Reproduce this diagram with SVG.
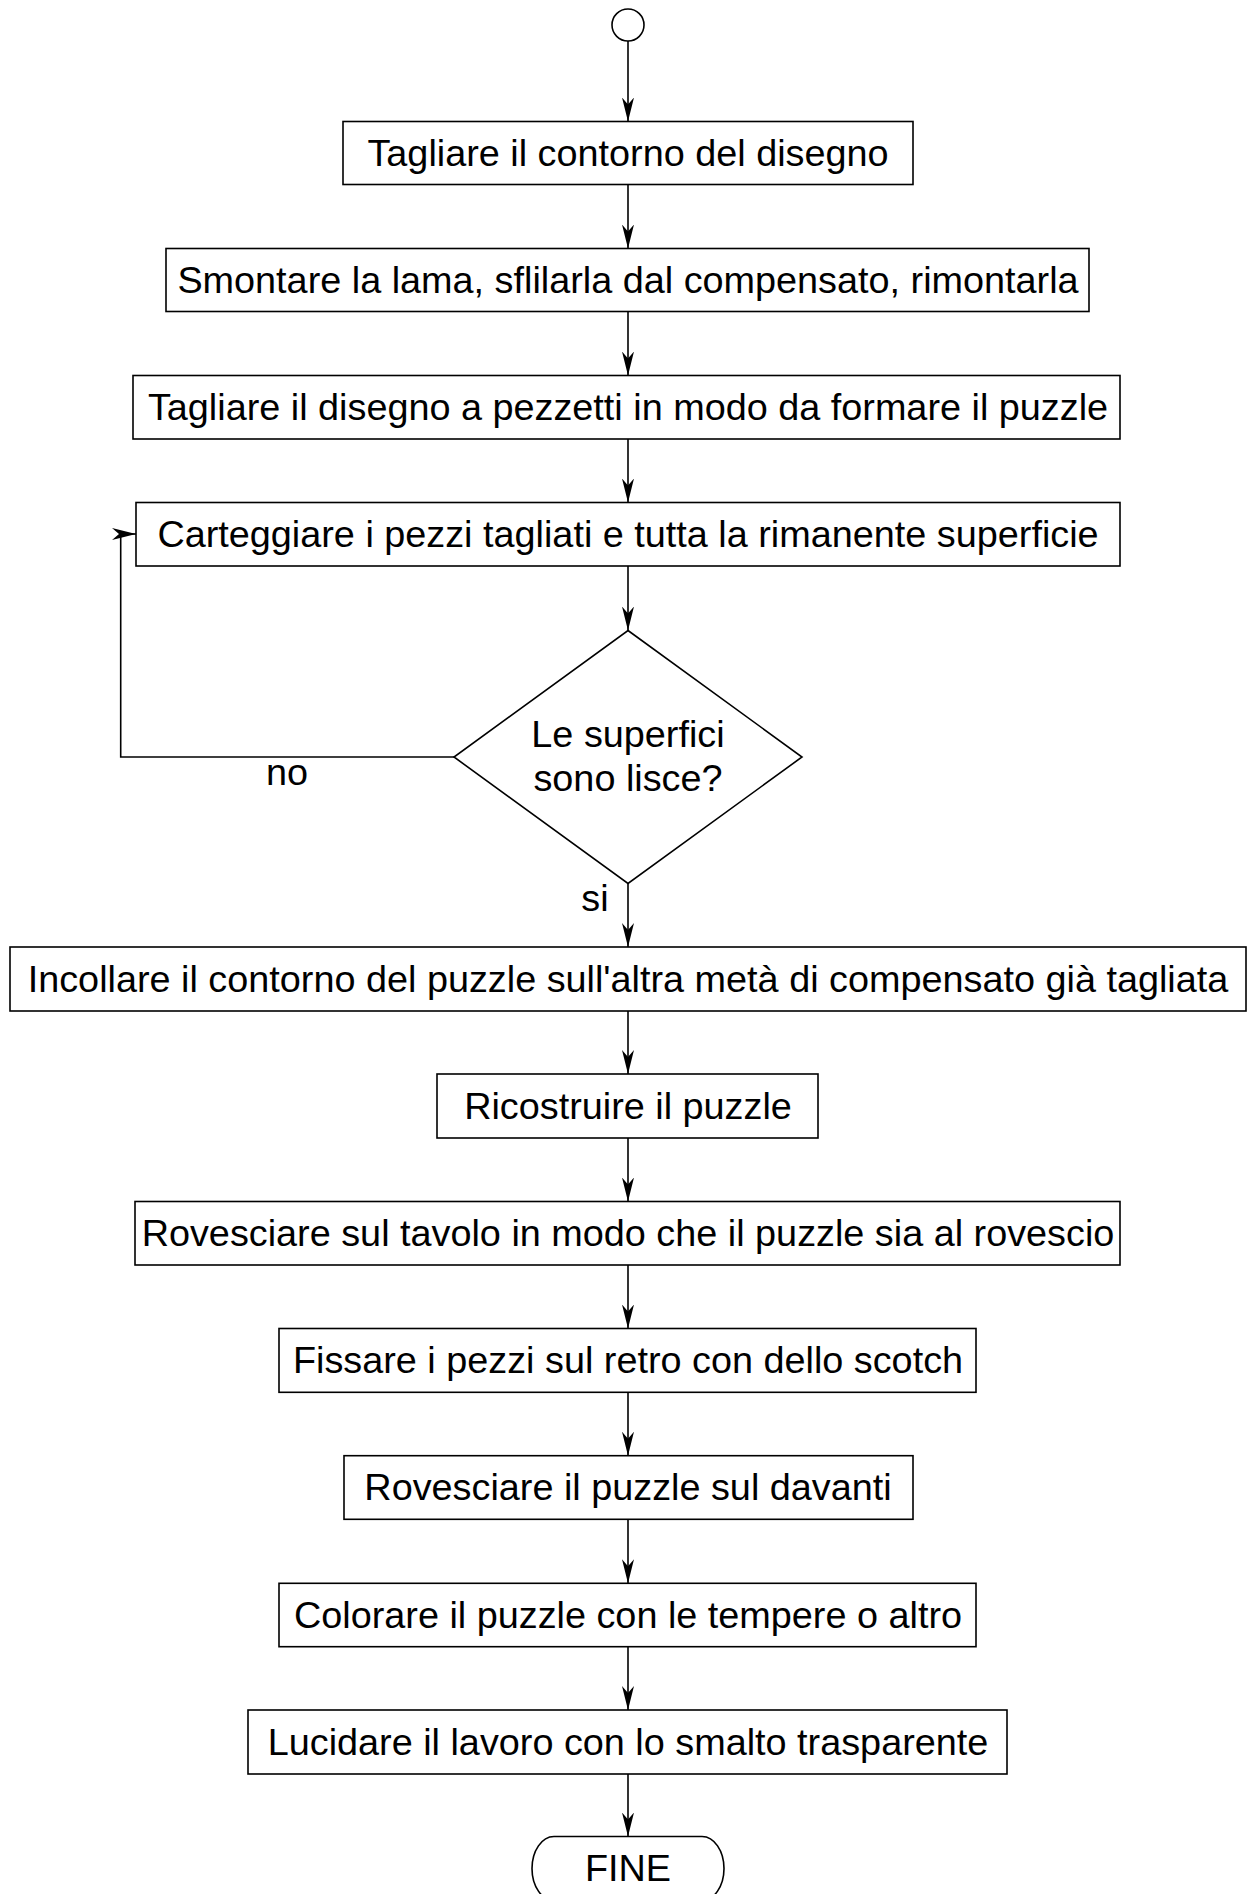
<svg xmlns="http://www.w3.org/2000/svg" width="1255" height="1894" viewBox="0 0 1255 1894">
<style>
.box{fill:#fff;stroke:#000;stroke-width:1.6}
.t{font-family:"Liberation Sans",Arial,sans-serif;font-size:37.8px;fill:#000;text-anchor:middle}
.c{fill:none;stroke:#000;stroke-width:1.6}
</style>
<defs>
<marker id="ah" viewBox="0 0 24 13" refX="24" refY="6.5" markerWidth="24" markerHeight="13" markerUnits="userSpaceOnUse" orient="auto">
<path d="M0,0.5 L24,6.5 L0,12.5 L7,6.5 Z" fill="#000"/>
</marker>
</defs>
<rect width="1255" height="1894" fill="#fff"/>
<g id="connectors">
<path class="c" d="M628,41 V121.5" marker-end="url(#ah)"/>
<path class="c" d="M628,184.5 V248.5" marker-end="url(#ah)"/>
<path class="c" d="M628,311.5 V375.5" marker-end="url(#ah)"/>
<path class="c" d="M628,439 V502.5" marker-end="url(#ah)"/>
<path class="c" d="M628,566 V630.5" marker-end="url(#ah)"/>
<path class="c" d="M628,883.5 V947" marker-end="url(#ah)"/>
<path class="c" d="M628,1011 V1074" marker-end="url(#ah)"/>
<path class="c" d="M628,1138 V1201.5" marker-end="url(#ah)"/>
<path class="c" d="M628,1265 V1328.5" marker-end="url(#ah)"/>
<path class="c" d="M628,1392.3 V1455.7" marker-end="url(#ah)"/>
<path class="c" d="M628,1519.3 V1583.3" marker-end="url(#ah)"/>
<path class="c" d="M628,1646.7 V1710" marker-end="url(#ah)"/>
<path class="c" d="M628,1774 V1836.5" marker-end="url(#ah)"/>
<path class="c" d="M454,757 H120.7 V534 H136" marker-end="url(#ah)"/>
<text class="t" x="287" y="785">no</text>
<text class="t" x="595" y="911">si</text>
</g>
<g id="start"><circle cx="628" cy="25" r="16" class="box"/></g>
<g id="n1"><rect class="box" x="343" y="121.5" width="570" height="63"/><text class="t" x="628" y="166">Tagliare il contorno del disegno</text></g>
<g id="n2"><rect class="box" x="166" y="248.5" width="923" height="63"/><text class="t" x="628" y="293">Smontare la lama, sflilarla dal compensato, rimontarla</text></g>
<g id="n3"><rect class="box" x="133" y="375.5" width="987" height="63.5"/><text class="t" x="628" y="420">Tagliare il disegno a pezzetti in modo da formare il puzzle</text></g>
<g id="n4"><rect class="box" x="136" y="502.5" width="984" height="63.5"/><text class="t" x="628" y="547">Carteggiare i pezzi tagliati e tutta la rimanente superficie</text></g>
<g id="d1"><polygon class="box" points="628,630.5 802,757 628,883.5 454,757"/><text class="t" x="628" y="747">Le superfici</text><text class="t" x="628" y="791">sono lisce?</text></g>
<g id="n5"><rect class="box" x="10" y="947" width="1236" height="64"/><text class="t" x="628" y="992">Incollare il contorno del puzzle sull'altra metà di compensato già tagliata</text></g>
<g id="n6"><rect class="box" x="437" y="1074" width="381" height="64"/><text class="t" x="628" y="1119">Ricostruire il puzzle</text></g>
<g id="n7"><rect class="box" x="135" y="1201.5" width="985" height="63.5"/><text class="t" x="628" y="1246">Rovesciare sul tavolo in modo che il puzzle sia al rovescio</text></g>
<g id="n8"><rect class="box" x="279" y="1328.5" width="697" height="63.8"/><text class="t" x="628" y="1373">Fissare i pezzi sul retro con dello scotch</text></g>
<g id="n9"><rect class="box" x="344" y="1455.7" width="569" height="63.6"/><text class="t" x="628" y="1500">Rovesciare il puzzle sul davanti</text></g>
<g id="n10"><rect class="box" x="279" y="1583.3" width="697" height="63.4"/><text class="t" x="628" y="1628">Colorare il puzzle con le tempere o altro</text></g>
<g id="n11"><rect class="box" x="248" y="1710" width="759" height="64"/><text class="t" x="628" y="1755">Lucidare il lavoro con lo smalto trasparente</text></g>
<g id="end"><path class="box" d="M554,1836.5 H702 A22,32 0 0 1 702,1900.5 H554 A22,32 0 0 1 554,1836.5 Z"/><text class="t" x="628" y="1881">FINE</text></g>
</svg>
